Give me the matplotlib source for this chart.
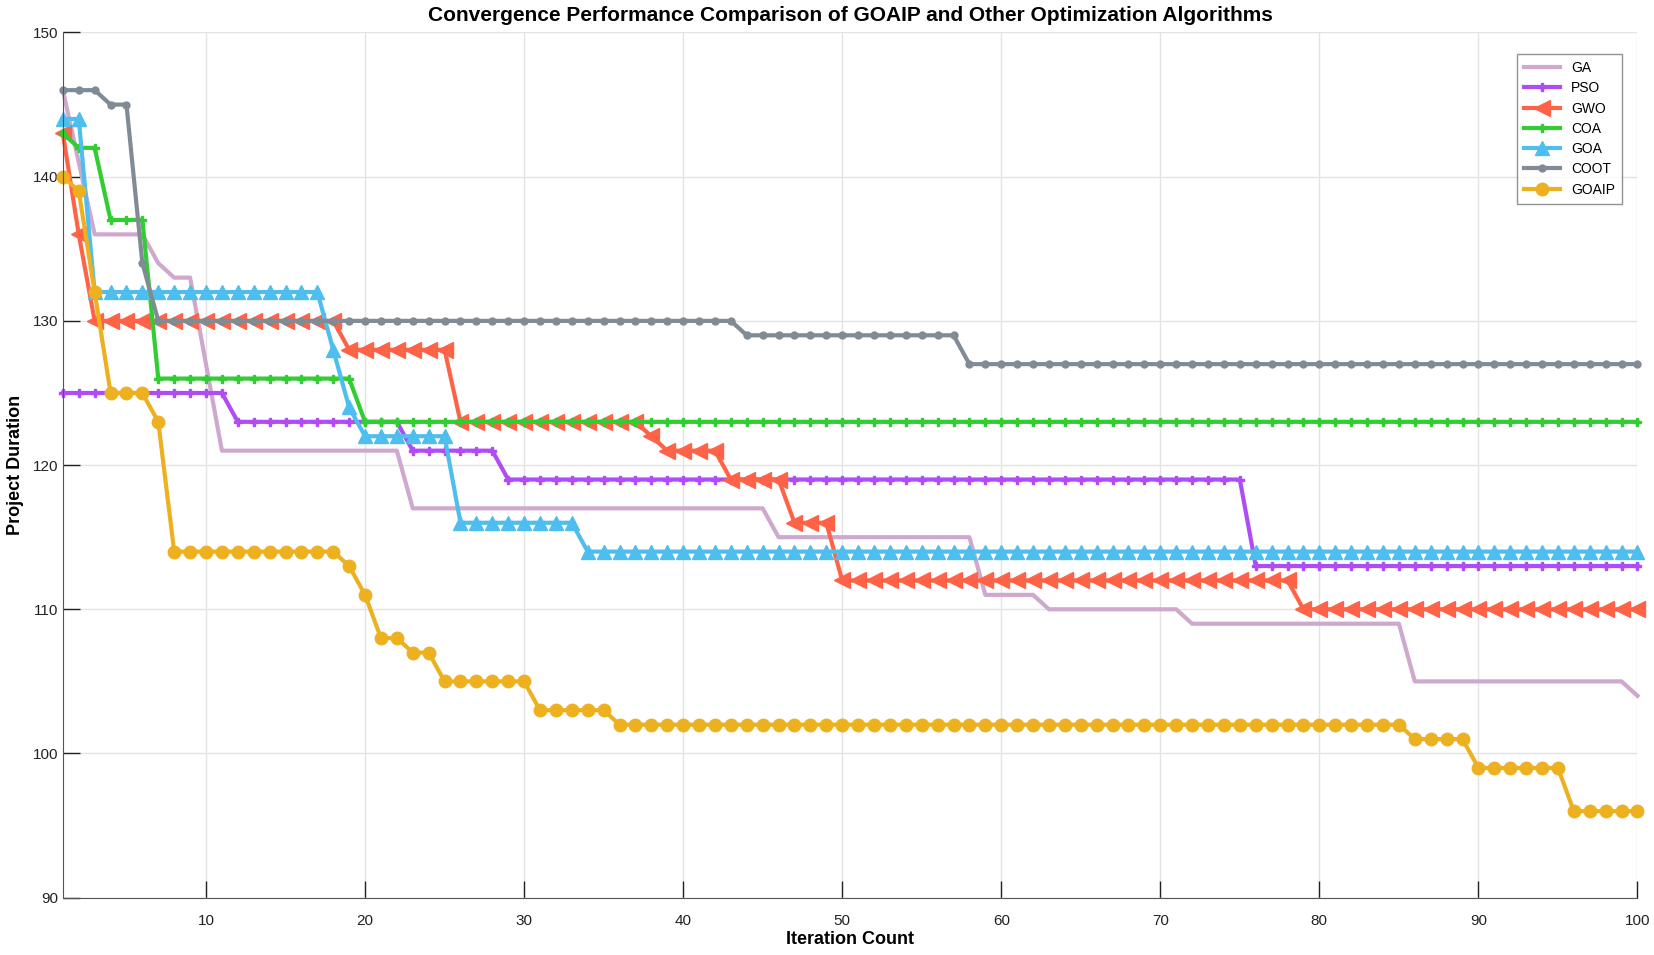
import numpy as np
import matplotlib
matplotlib.use("Agg")
import matplotlib.pyplot as plt

plt.rcParams["font.family"] = ["Liberation Sans", "DejaVu Sans"]

# --- data ---
iters = np.arange(1, 101)

ga = [146, 141] + [136]*4 + [134] + [133]*2 + [127] + [121]*12 + [117]*23 + \
     [115]*13 + [111]*4 + [110]*9 + [109]*14 + [105]*14 + [104]
pso = [125]*11 + [123]*11 + [121]*6 + [119]*47 + [113]*25
gwo = [143, 136] + [130]*16 + [128]*7 + [123]*12 + [122] + [121]*4 + [119]*4 + \
      [116]*3 + [112]*29 + [110]*22
coa = [143, 142, 142] + [137]*3 + [126]*13 + [123]*81
goa = [144, 144] + [132]*15 + [128, 124] + [122]*6 + [116]*8 + [114]*67
coot = [146, 146, 146, 145, 145, 134] + [130]*37 + [129]*14 + [127]*43
goaip = [140, 139, 132] + [125]*3 + [123] + [114]*11 + [113, 111] + [108]*2 + \
        [107]*2 + [105]*6 + [103]*5 + [102]*50 + [101]*4 + [99]*6 + [96]*5

names = ["GA", "PSO", "GWO", "COA", "GOA", "COOT", "GOAIP"]
series = [ga, pso, gwo, coa, goa, coot, goaip]

styles = {
    "GA":    dict(color="#CEA8CE", marker=None),
    "PSO":   dict(color="#B04CF5", marker="P", markersize=6),
    "GWO":   dict(color="#FF6347", marker="<", markersize=11),
    "COA":   dict(color="#32CD32", marker="P", markersize=6),
    "GOA":   dict(color="#4DBEEE", marker="^", markersize=10),
    "COOT":  dict(color="#808B96", marker="o", markersize=5),
    "GOAIP": dict(color="#EDB120", marker="o", markersize=9),
}

fig = plt.figure(figsize=(16.54, 9.55), dpi=100)
ax = fig.add_axes([0.038, 0.06, 0.952, 0.906])

for name, vals in zip(names, series):
    st = styles[name]
    ax.plot(iters, vals, linewidth=3, label=name, clip_on=False, **st)

ax.set_xlim(1, 100)
ax.set_ylim(90, 150)
ax.set_xticks(np.arange(10, 101, 10))
ax.set_yticks(np.arange(90, 151, 10))
ax.tick_params(direction="in", length=12, width=1, labelsize=11, colors="#222222")
ax.tick_params(axis="x", pad=12)
ax.grid(True, color="#e3e3e3", linewidth=1)
ax.set_axisbelow(True)
for s in ["top", "right"]:
    ax.spines[s].set_visible(False)
for s in ["left", "bottom"]:
    ax.spines[s].set_color("#555555")

ax.set_title("Convergence Performance Comparison of GOAIP and Other Optimization Algorithms",
             fontsize=15, fontweight="bold", pad=8)
ax.set_xlabel("Iteration Count", fontsize=13, fontweight="bold", labelpad=2)
ax.set_ylabel("Project Duration", fontsize=13, fontweight="bold", labelpad=6)

leg = ax.legend(loc="upper right", bbox_to_anchor=(0.9945, 0.983), fontsize=10,
                frameon=True, fancybox=False, edgecolor="#777777",
                handlelength=2.6, labelspacing=0.45, borderpad=0.5)
leg.get_frame().set_linewidth(1)

plt.savefig("out.png", dpi=100)
